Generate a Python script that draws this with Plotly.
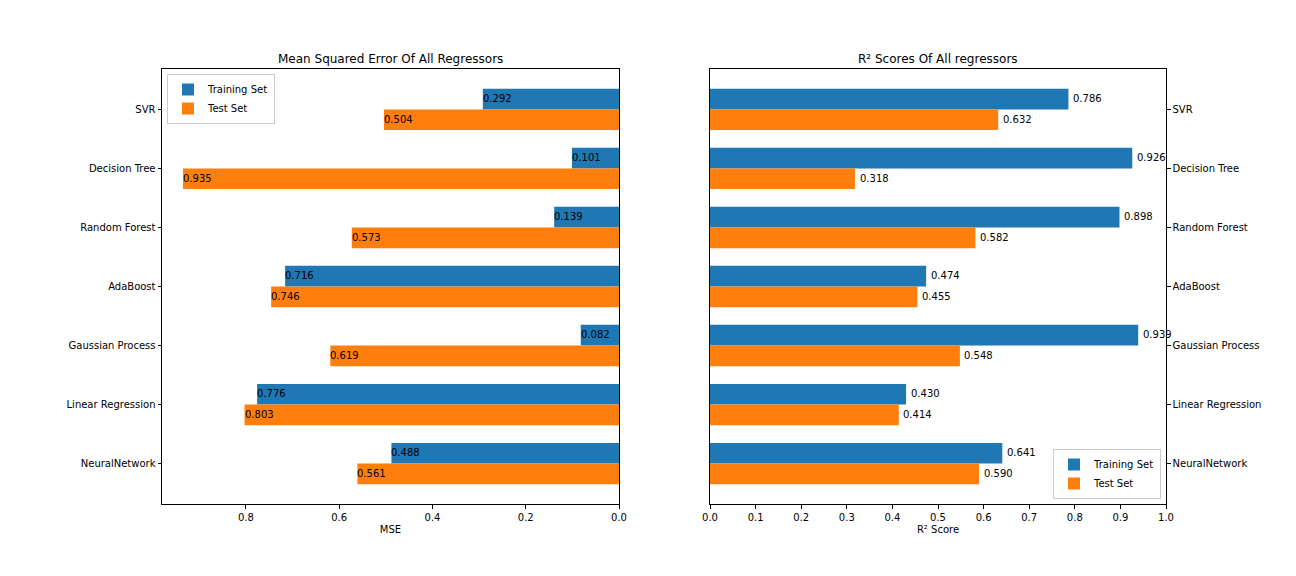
import plotly.graph_objects as go

models = ["SVR", "Decision Tree", "Random Forest", "AdaBoost",
          "Gaussian Process", "Linear Regression", "NeuralNetwork"]
mse_train = [0.292, 0.101, 0.139, 0.716, 0.082, 0.776, 0.488]
mse_test = [0.504, 0.935, 0.573, 0.746, 0.619, 0.803, 0.561]
r2_train = [0.786, 0.926, 0.898, 0.474, 0.939, 0.430, 0.641]
r2_test = [0.632, 0.318, 0.582, 0.455, 0.548, 0.414, 0.590]
mse_ticks = [0.0, 0.2, 0.4, 0.6, 0.8]
r2_ticks = [0.0, 0.1, 0.2, 0.3, 0.4, 0.5, 0.6, 0.7, 0.8, 0.9, 1.0]

BLUE = "#1f77b4"
ORANGE = "#ff7f0e"
FONT = "DejaVu Sans"
W, H = 1296, 576
OFF = 8  # page body margin compensation


def px(x):
    return (x - OFF) / W


def py(y):
    return 1 - (y - OFF) / H


fig = go.Figure()


def add_bars(xa, ya, train, test, legend):
    fig.add_trace(go.Bar(y=models, x=train, orientation="h", width=0.35, offset=0,
                         marker=dict(color=BLUE, line=dict(width=0)), name="Training Set",
                         xaxis=xa, yaxis=ya, legend=legend))
    fig.add_trace(go.Bar(y=models, x=test, orientation="h", width=0.35, offset=-0.35,
                         marker=dict(color=ORANGE, line=dict(width=0)), name="Test Set",
                         xaxis=xa, yaxis=ya, legend=legend))


add_bars("x", "y", mse_train, mse_test, "legend")
add_bars("x2", "y2", r2_train, r2_test, "legend2")

annotations = []
for i, m in enumerate(models):
    for val, shift in ((mse_train[i], 11), (mse_test[i], -10)):
        annotations.append(dict(x=val, y=m, xref="x", yref="y", text=f"{val:.3f}",
                                showarrow=False, xanchor="left", yanchor="middle",
                                yshift=shift, xshift=-2, font=dict(size=10, color="black", family=FONT)))
    for val, shift in ((r2_train[i], 11), (r2_test[i], -10)):
        annotations.append(dict(x=val + 0.01, y=m, xref="x2", yref="y2", text=f"{val:.3f}",
                                showarrow=False, xanchor="left", yanchor="middle",
                                yshift=shift, xshift=-2, font=dict(size=10, color="black", family=FONT)))

annotations.append(dict(x=px((162 + 619) / 2), y=py(59), xref="paper", yref="paper",
                        text="Mean Squared Error Of All Regressors", showarrow=False,
                        xanchor="center", yanchor="middle", font=dict(size=12, color="black", family=FONT)))
annotations.append(dict(x=px((710 + 1166) / 2), y=py(59), xref="paper", yref="paper",
                        text="R² Scores Of All regressors", showarrow=False,
                        xanchor="center", yanchor="middle", font=dict(size=12, color="black", family=FONT)))

axis_common = dict(showgrid=False, zeroline=False, showline=True, linecolor="black", linewidth=1,
                   mirror=True, ticks="outside", ticklen=3.5, tickcolor="black", automargin=False,
                   tickfont=dict(size=10, color="black", family=FONT))

yr = [-0.685, 6.685]
order = list(reversed(models))

fig.update_layout(
    width=W, height=H,
    margin=dict(l=0, r=0, t=0, b=0, pad=0),
    plot_bgcolor="white", paper_bgcolor="white",
    barmode="overlay",
    font=dict(family=FONT, size=10, color="black"),
    xaxis=dict(domain=[px(162), px(619)], anchor="y", range=[0.98, 0], tickvals=mse_ticks,
               tickformat=".1f", title=dict(text="MSE", font=dict(size=10), standoff=4), **axis_common),
    yaxis=dict(domain=[py(504), py(69)], anchor="x", range=yr, type="category",
               categoryorder="array", categoryarray=order, side="left", **axis_common),
    xaxis2=dict(domain=[px(710), px(1166)], anchor="y2", range=[0, 1], tickvals=r2_ticks,
                tickformat=".1f", title=dict(text="R² Score", font=dict(size=10), standoff=4), **axis_common),
    yaxis2=dict(domain=[py(504), py(69)], anchor="x2", range=yr, type="category",
                categoryorder="array", categoryarray=order, side="right", **axis_common),
    legend=dict(x=px(167), y=py(74), xanchor="left", yanchor="top",
                bordercolor="#cccccc", borderwidth=1, bgcolor="rgba(255,255,255,0.8)",
                font=dict(size=10, family=FONT), tracegroupgap=0),
    legend2=dict(x=px(1161), y=py(499), xanchor="right", yanchor="bottom",
                 bordercolor="#cccccc", borderwidth=1, bgcolor="rgba(255,255,255,0.8)",
                 font=dict(size=10, family=FONT), tracegroupgap=0),
    annotations=annotations,
)

fig.write_html("out.html")
